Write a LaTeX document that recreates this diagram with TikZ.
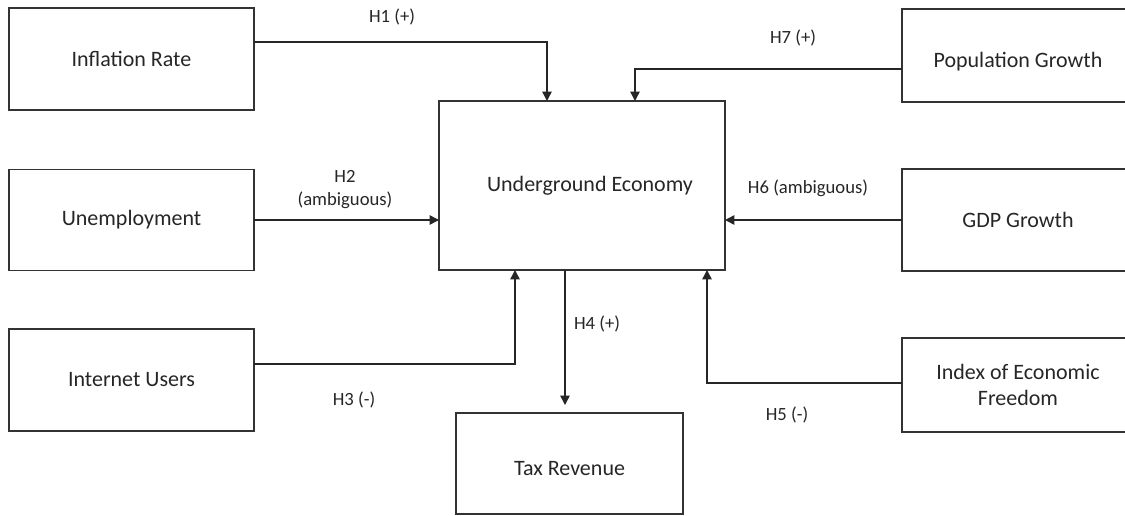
\documentclass[tikz,border=0pt]{standalone}
\usepackage{fontspec}
\setmainfont{Carlito}
\usetikzlibrary{arrows.meta}

\begin{document}
\begin{tikzpicture}[x=0.75pt,y=-0.75pt,
  box/.style={draw=black!80,line width=1.1pt,inner sep=0pt,outer sep=0pt,
    text=black!85,align=center,font=\fontsize{16.5}{20}\selectfont},
  lowtext/.style={text height=22pt,text depth=3.5pt},
  hyp/.style={text=black!85,align=center,inner sep=0pt,
    font=\fontsize{14}{17.25}\selectfont},
  arr/.style={-{Triangle[length=7pt,width=7pt]},draw=black!85,line width=1.1pt}]
  \clip (0,0) rectangle (1125,515);

  % Determinants (left)
  \node[box,minimum width=183.75pt,minimum height=76.5pt] (infl) at (131.5,59) {Inflation Rate};
  \node[box,minimum width=183.75pt,minimum height=75.75pt] (unemp) at (131.5,220) {Unemployment};
  \node[box,minimum width=183.75pt,minimum height=76.5pt] (inet) at (131.5,380) {Internet Users};

  % Central construct and outcome
  \node[box,minimum width=214.5pt,minimum height=126.75pt] (ue) at (582,185.5) {\hspace*{12pt}Underground Economy};
  \node[box,lowtext,minimum width=170.25pt,minimum height=75.75pt] (tax) at (569.5,463.5) {Tax Revenue};

  % Determinants (right)
  \node[box,lowtext,minimum width=174pt,minimum height=69.75pt] (pop) at (1018,55.5) {Population Growth};
  \node[box,minimum width=174pt,minimum height=76.5pt] (gdp) at (1018,220) {GDP Growth};
  \node[box,minimum width=174pt,minimum height=70.5pt] (idx) at (1018,385) {Index of Economic\\Freedom};

  % Bend points
  \coordinate (h1) at (547,42);
  \coordinate (h7) at (635,69);
  \coordinate (h3) at (515,364);
  \coordinate (h5) at (707,383);
  \coordinate (h4) at (565,340);

  % Arrows
  \draw[arr] (infl.east |- h1) -| (ue.north -| h1);
  \draw[arr] (pop.west |- h7) -| (ue.north -| h7);
  \draw[arr] (unemp.east) -- (unemp.east -| ue.west);
  \draw[arr] (gdp.west) -- (gdp.west -| ue.east);
  \draw[arr] (inet.east |- h3) -| (ue.south -| h3);
  \draw[arr] (idx.west |- h5) -| (ue.south -| h5);
  \draw[arr,shorten >=6pt] (ue.south -| h4) -- (tax.north -| h4);

  % Hypothesis labels
  \node[hyp] (l1) at (392,17) {H1 (+)};
  \node[hyp] (l7) at (793,38) {H7 (+)};
  \node[hyp] (l2) at (345,189.5) {H2\\(ambiguous)};
  \node[hyp] (l6) at (808,188) {H6 (ambiguous)};
  \node[hyp] (l3) at (354,400) {H3 (-)};
  \node[hyp] (l4) at (597,324) {H4 (+)};
  \node[hyp] (l5) at (787,415) {H5 (-)};
\end{tikzpicture}
\end{document}
